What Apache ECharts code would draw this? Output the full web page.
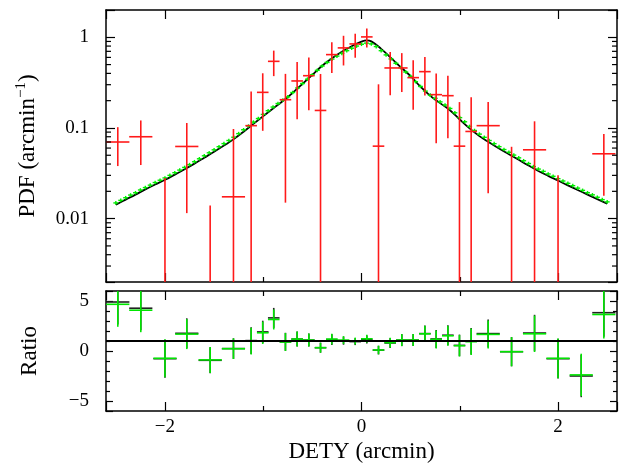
<!DOCTYPE html>
<html><head><meta charset="utf-8">
<script src="https://cdn.jsdelivr.net/npm/echarts@6/dist/echarts.min.js"></script>
<style>html,body{margin:0;padding:0;background:#fff}#c{width:620px;height:464px}</style>
</head><body><div id="c"></div>
<script>
// Data bins (centre, half width), measured PDF and its 1-sigma error
const binX    = [-2.48,-2.246,-2.0,-1.778,-1.54,-1.303,-1.123,-1.005,-0.893,-0.774,-0.655,-0.536,-0.417,-0.302,-0.183,-0.064,0.054,0.173,0.292,0.41,0.526,0.645,0.760,0.879,0.997,1.116,1.289,1.527,1.761,2.0,2.236,2.466];
const binHalf = [0.118,0.118,0.118,0.118,0.118,0.118,0.059,0.059,0.059,0.059,0.059,0.059,0.059,0.059,0.059,0.059,0.059,0.059,0.059,0.059,0.059,0.059,0.059,0.059,0.059,0.059,0.118,0.118,0.118,0.118,0.118,0.118];
const pdfVal  = [0.070,0.080,-0.020,0.0625,-0.046,0.0174,0.106,0.247,0.543,0.205,0.330,0.377,0.156,0.644,0.764,0.845,1.01,0.063,0.459,0.459,0.359,0.418,0.233,0.227,0.063,0.0915,0.106,-0.004,0.0574,-0.020,-0.048,0.0519];
const pdfErr  = [0.032,0.041,0.048,0.051,0.060,0.080,0.147,0.154,0.170,0.190,0.205,0.220,0.238,0.240,0.275,0.250,0.240,0.240,0.230,0.210,0.200,0.190,0.165,0.150,0.130,0.126,0.087,0.066,0.061,0.050,0.042,0.034];

// Model curve (black)
const modelX = [-2.5,-2.4,-2.3,-2.2,-2.1,-2.0,-1.9,-1.8,-1.7,-1.6,-1.5,-1.4,-1.3,-1.2,-1.1,-1.0,-0.9,-0.8,-0.7,-0.6,-0.5,-0.4,-0.3,-0.2,-0.1,0.0,0.05,0.1,0.2,0.3,0.4,0.5,0.6,0.7,0.8,0.9,1.0,1.1,1.2,1.3,1.4,1.5,1.6,1.7,1.8,1.9,2.0,2.1,2.2,2.3,2.4,2.5];
const modelY = [0.0142,0.0162,0.0184,0.0210,0.0238,0.0268,0.0306,0.0350,0.0404,0.0470,0.0547,0.0640,0.0753,0.0910,0.111,0.135,0.164,0.198,0.244,0.307,0.386,0.486,0.586,0.692,0.798,0.895,0.925,0.902,0.745,0.592,0.468,0.372,0.285,0.226,0.188,0.157,0.124,0.0989,0.0813,0.0692,0.0592,0.0513,0.0445,0.0385,0.0335,0.0296,0.0263,0.0233,0.0207,0.0184,0.0164,0.0146];

// Simulated model points (green)
const simX = [-2.5,-2.45,-2.4,-2.35,-2.3,-2.25,-2.2,-2.15,-2.1,-2.05,-2.0,-1.95,-1.9,-1.85,-1.8,-1.75,-1.7,-1.65,-1.6,-1.55,-1.5,-1.45,-1.4,-1.35,-1.3,-1.25,-1.2,-1.15,-1.1,-1.05,-1.0,-0.95,-0.9,-0.85,-0.8,-0.75,-0.7,-0.65,-0.6,-0.55,-0.5,-0.45,-0.4,-0.35,-0.3,-0.25,-0.2,-0.15,-0.1,-0.05,0.0,0.05,0.1,0.15,0.2,0.25,0.3,0.35,0.4,0.45,0.5,0.55,0.6,0.65,0.7,0.75,0.8,0.85,0.9,0.95,1.0,1.05,1.1,1.15,1.2,1.25,1.3,1.35,1.4,1.45,1.5,1.55,1.6,1.65,1.7,1.75,1.8,1.85,1.9,1.95,2.0,2.05,2.1,2.15,2.2,2.25,2.3,2.35,2.4,2.45,2.5];
const simY = [0.0149,0.0159,0.0170,0.0182,0.0193,0.0207,0.0220,0.0234,0.0250,0.0265,0.0281,0.0300,0.0321,0.0343,0.0367,0.0394,0.0424,0.0457,0.0493,0.0532,0.0574,0.0621,0.0672,0.0727,0.0790,0.0866,0.0955,0.105,0.116,0.127,0.141,0.155,0.170,0.186,0.203,0.220,0.246,0.276,0.309,0.345,0.386,0.432,0.482,0.528,0.575,0.620,0.665,0.712,0.758,0.800,0.838,0.862,0.845,0.790,0.712,0.640,0.577,0.517,0.462,0.414,0.370,0.324,0.287,0.255,0.230,0.212,0.194,0.179,0.164,0.147,0.130,0.117,0.104,0.0937,0.0855,0.0788,0.0727,0.0671,0.0622,0.0578,0.0539,0.0502,0.0468,0.0435,0.0405,0.0375,0.0352,0.0332,0.0311,0.0293,0.0276,0.0260,0.0245,0.0231,0.0217,0.0205,0.0193,0.0183,0.0172,0.0162,0.0153];

// Ratio panel
const ratioGreen    = [4.67,4.08,-0.73,1.69,-0.89,0.23,0.99,1.82,3.15,0.90,1.19,1.09,0.33,1.19,1.09,0.99,1.22,0.10,0.83,1.09,1.09,1.72,1.16,1.52,0.53,0.93,1.66,-0.07,1.72,-0.73,-2.39,3.65];
const ratioBlack    = [4.90,4.28,-0.77,1.77,-0.93,0.24,1.04,1.91,3.31,0.92,1.19,1.09,0.33,1.14,1.03,0.94,1.15,0.09,0.80,1.09,1.09,1.74,1.20,1.58,0.56,0.98,1.74,-0.07,1.80,-0.77,-2.50,3.83];
const ratioErr      = [2.25,2.20,1.90,1.50,1.30,1.03,1.33,1.12,1.00,0.90,0.75,0.65,0.50,0.53,0.40,0.35,0.40,0.43,0.50,0.60,0.60,0.80,0.90,1.00,1.08,1.33,1.40,1.46,1.82,1.99,2.12,2.40];
const ratioRef = 1;

// Tick values
const logMajorLabels = [0.01, 0.1, 1];
const logMinorTicks = [0.003,0.004,0.005,0.006,0.007,0.008,0.009,0.02,0.03,0.04,0.05,0.06,0.07,0.08,0.09,0.2,0.3,0.4,0.5,0.6,0.7,0.8,0.9];
const xLabelValues = [-2, 0, 2];
const ratioLabelValues = [-5, 0, 5];

const FONT = 'Liberation Serif';
const TICK_FS = 19, TITLE_FS = 23;
const minus = s => String(s).replace('-', '\u2212');

function errRender(color, width, isLog) {
  return function (params, api) {
    const cs = params.coordSys;
    const x = api.value(0), hw = api.value(1), y = api.value(2), e = api.value(3);
    const top = cs.y, bot = cs.y + cs.height;
    const ref = isLog ? 1 : 0;
    const yPix = v => (isLog && v <= 0) ? Infinity : api.coord([x, v])[1];
    const clampY = p => Math.min(bot, Math.max(top, p));
    const px = api.coord([x, ref])[0];
    const x0 = api.coord([x - hw, ref])[0];
    const x1 = api.coord([x + hw, ref])[0];
    const pHi = yPix(y + e), pLo = yPix(y - e), pC = yPix(y);
    const a = clampY(pHi), b = clampY(pLo);
    const children = [];
    const st = {stroke: color, lineWidth: width};
    if (b - a > 0.5) children.push({type: 'line', shape: {x1: px, y1: a, x2: px, y2: b}, style: st});
    if (pC >= top && pC <= bot) children.push({type: 'line', shape: {x1: x0, y1: pC, x2: x1, y2: pC}, style: st});
    return {type: 'group', children};
  };
}

function simRender(params, api) {
  const p = api.coord([api.value(0), api.value(1)]);
  const st = {stroke: '#00ee00', lineWidth: 1.4};
  return {type: 'group', children: [
    {type: 'line', shape: {x1: p[0] - 2.5, y1: p[1], x2: p[0] + 2.5, y2: p[1]}, style: st},
    {type: 'line', shape: {x1: p[0], y1: p[1] - 1.8, x2: p[0], y2: p[1] + 1.8}, style: st}
  ]};
}

function minorTickRender(params, api) {
  const cs = params.coordSys;
  const y = api.coord([0, api.value(0)])[1];
  const st = {stroke: '#000', lineWidth: 1.2};
  return {type: 'group', children: [
    {type: 'line', shape: {x1: cs.x, y1: y, x2: cs.x + 5, y2: y}, style: st},
    {type: 'line', shape: {x1: cs.x + cs.width - 5, y1: y, x2: cs.x + cs.width, y2: y}, style: st}
  ]};
}

const axisLine = {show: true, onZero: false, lineStyle: {color: '#000', width: 1.5}};
function xAx(grid, pos, labels) {
  return {
    type: 'value', gridIndex: grid, position: pos, min: -2.6, max: 2.6, splitNumber: 3,
    axisLine, splitLine: {show: false}, minorSplitLine: {show: false},
    axisTick: {show: true, inside: true, length: 9, lineStyle: {color: '#000', width: 1.2}},
    minorTick: {show: true, splitNumber: 2, length: 5, lineStyle: {color: '#000', width: 1.2}},
    axisLabel: {show: labels, margin: 7, color: '#000', fontFamily: FONT, fontSize: TICK_FS,
      formatter: v => xLabelValues.some(t => Math.abs(t - v) < 1e-6) ? minus(Math.round(v)) : ''},
    name: labels ? 'DETY (arcmin)' : '', nameLocation: 'middle', nameGap: 29,
    nameTextStyle: {color: '#000', fontFamily: FONT, fontSize: TITLE_FS}
  };
}
function yLog(pos, labels) {
  return {
    type: 'log', gridIndex: 0, position: pos, min: 0.002, max: 2, logBase: 10,
    axisLine, splitLine: {show: false}, minorSplitLine: {show: false},
    axisTick: {show: true, inside: true, length: 9, lineStyle: {color: '#000', width: 1.2}},
    minorTick: {show: false},
    axisLabel: {show: labels, margin: 17, color: '#000', fontFamily: FONT, fontSize: TICK_FS,
      formatter: v => { const m = logMajorLabels.find(t => Math.abs(t - v) / t < 1e-6); return m === undefined ? '' : String(m); }},
    name: labels ? '{a|PDF (arcmin}{s|\u22121}{a|)}' : '', nameLocation: 'middle', nameGap: 65, nameRotate: 90,
    nameTextStyle: {color: '#000', fontFamily: FONT, fontSize: TITLE_FS,
      rich: {a: {fontFamily: FONT, fontSize: TITLE_FS, lineHeight: 27, color: '#000'},
             s: {fontFamily: FONT, fontSize: 15, lineHeight: 15, verticalAlign: 'top', color: '#000'}}}
  };
}
function yRatio(pos, labels) {
  return {
    type: 'value', gridIndex: 1, position: pos, min: -6, max: 6, splitNumber: 3,
    axisLine, splitLine: {show: false}, minorSplitLine: {show: false},
    axisTick: {show: true, inside: true, length: 7, lineStyle: {color: '#000', width: 1.2}},
    minorTick: {show: true, splitNumber: 5, length: 4, lineStyle: {color: '#000', width: 1.2}},
    axisLabel: {show: labels, margin: 17, color: '#000', fontFamily: FONT, fontSize: TICK_FS,
      formatter: v => ratioLabelValues.some(t => Math.abs(t - v) < 1e-6) ? minus(Math.round(v)) : ''},
    name: labels ? 'Ratio' : '', nameLocation: 'middle', nameGap: 65, nameRotate: 90,
    nameTextStyle: {color: '#000', fontFamily: FONT, fontSize: TITLE_FS}
  };
}

const pdfData = binX.map((x, i) => [x, binHalf[i], pdfVal[i], pdfErr[i]]);
const ratioGreenData = binX.map((x, i) => [x, binHalf[i], ratioGreen[i], ratioErr[i]]);
const ratioBlackData = binX.map((x, i) => [x, binHalf[i], ratioBlack[i], ratioErr[i]]);

const chart = echarts.init(document.getElementById('c'), null, {renderer: 'canvas'});
chart.setOption({
  animation: false,
  backgroundColor: '#fff',
  grid: [
    {left: 106, top: 10, width: 511, height: 272},
    {left: 106, top: 291, width: 511, height: 120}
  ],
  xAxis: [xAx(0, 'bottom', false), xAx(0, 'top', false), xAx(1, 'bottom', true), xAx(1, 'top', false)],
  yAxis: [yLog('left', true), yLog('right', false), yRatio('left', true), yRatio('right', false)],
  series: [
    {type: 'custom', xAxisIndex: 0, yAxisIndex: 0, data: logMinorTicks.map(v => [v]), encode: {y: 0},
     renderItem: minorTickRender, silent: true, z: 5},
    {type: 'line', xAxisIndex: 0, yAxisIndex: 0, data: modelX.map((x, i) => [x, modelY[i]]),
     smooth: 0.4, showSymbol: false, lineStyle: {color: '#000', width: 1.8}, z: 2},
    {type: 'custom', xAxisIndex: 0, yAxisIndex: 0, data: simX.map((x, i) => [x, simY[i]]),
     encode: {x: 0, y: 1}, renderItem: simRender, z: 3},
    {type: 'custom', xAxisIndex: 0, yAxisIndex: 0, data: pdfData, encode: {x: 0, y: 2},
     renderItem: errRender('#ff1a1a', 1.6, true), z: 4},
    {type: 'custom', xAxisIndex: 2, yAxisIndex: 2, data: ratioBlackData, encode: {x: 0, y: 2},
     renderItem: errRender('#222', 1.6, false), z: 2,
     markLine: {silent: true, symbol: 'none', label: {show: false}, data: [{yAxis: ratioRef}],
       lineStyle: {color: '#000', width: 2, type: 'solid'}, animation: false}},
    {type: 'custom', xAxisIndex: 2, yAxisIndex: 2, data: ratioGreenData, encode: {x: 0, y: 2},
     renderItem: errRender('#00e600', 1.6, false), z: 3}
  ]
});
</script>
</body></html>
